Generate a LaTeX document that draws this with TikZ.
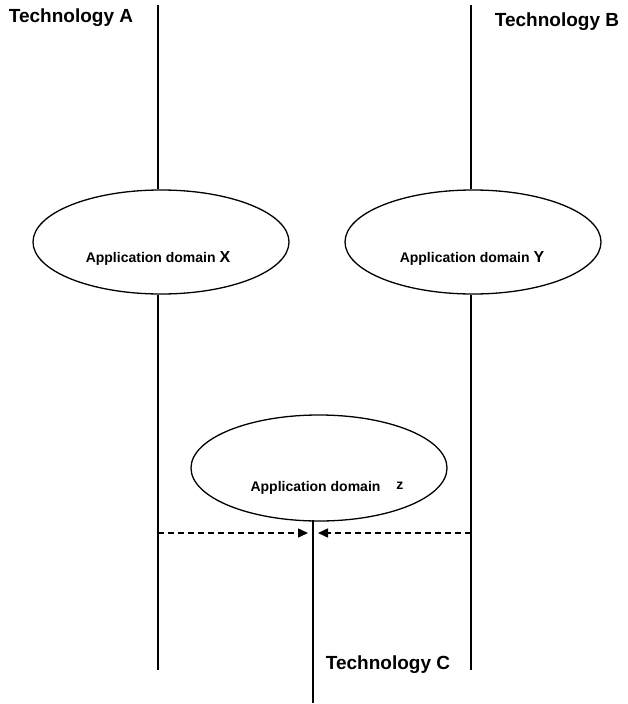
\documentclass[tikz,border=0pt]{standalone}
\usepackage{fontspec}
\setmainfont{Liberation Sans}
\usetikzlibrary{shapes.geometric,arrows.meta}

\tikzset{
  appdomain/.style={draw, ellipse, line width=1.3pt, minimum width=256pt, minimum height=104pt, inner sep=0pt},
  techlabel/.style={font=\bfseries\fontsize{19}{19}\selectfont, inner sep=0pt},
  domlabel/.style={font=\bfseries\fontsize{14}{14}\selectfont, inner sep=0pt},
  techline/.style={line width=1.8pt},
  feed/.style={line width=1.5pt, dash pattern=on 6pt off 4pt, -{Triangle[length=10pt,width=9pt]}}
}

\begin{document}
\begin{tikzpicture}[x=1pt,y=-1pt]
\useasboundingbox (0,0) rectangle (628,704);

% application domains
\node [appdomain] (X) at (161,242) {}; \node [domlabel] (lX) at (158,258) {Application domain {\fontsize{16}{16}\selectfont X}};
\node [appdomain] (Y) at (473,242) {}; \node [domlabel] (lY) at (472,258) {Application domain {\fontsize{16}{16}\selectfont Y}};
\node [appdomain, minimum height=106pt] (Z) at (319,468) {}; \node [domlabel] (lZ) at (327,488) {Application domain\hspace{16pt}\raisebox{2pt}{z}};

% technologies
\node [techlabel] (tA) at (71,18) {Technology A};
\node [techlabel] (tB) at (557,22) {Technology B};
\node [techlabel] (tC) at (388,665) {Technology C};

\coordinate (aTop) at (158,5); \coordinate (aEnd) at (158,670);
\coordinate (bTop) at (471,5); \coordinate (bEnd) at (471,670);
\coordinate (cTop) at (313,520); \coordinate (cEnd) at (313,703);

\draw [techline] (aTop) -- (aTop |- X.north); \draw [techline] (aTop |- X.south) -- (aEnd);
\draw [techline] (bTop) -- (bTop |- Y.north); \draw [techline] (bTop |- Y.south) -- (bEnd);
\draw [techline] (cTop) -- (cEnd);

% feeds into technology C
\coordinate (inL) at (308,533); \coordinate (inR) at (318,533);
\draw [feed] (aEnd |- inL) -- (inL); \draw [feed] (bEnd |- inR) -- (inR);
\end{tikzpicture}
\end{document}
